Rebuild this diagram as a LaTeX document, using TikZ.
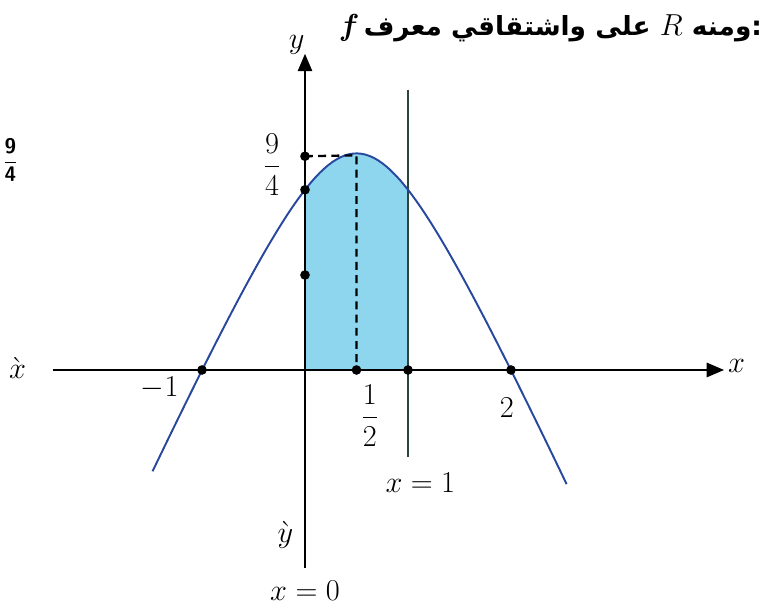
\documentclass[tikz,border=0pt]{standalone}
\usepackage{amsmath}
\usepackage{fontspec}
\newfontfamily\arabicfont[Script=Arabic]{DejaVu Sans}
\TeXXeTstate=1
\usetikzlibrary{arrows.meta,calc}
\definecolor{areablue}{RGB}{142,214,238}
\definecolor{curveblue}{RGB}{40,72,160}
\definecolor{lineslate}{RGB}{45,68,58}

\begin{document}
\begin{tikzpicture}[
    x=2.06cm, y=1.9cm,
    declare function={fc(\t)=2.28-2.39*(sqrt(0.49+(\t-0.5)^2)-0.7);},
    axis/.style={line width=1.6pt, -{Triangle[length=10pt,width=8pt]}},
    curve/.style={curveblue, line width=1.1pt},
    guide/.style={line width=1.3pt, dash pattern=on 4.5pt off 3pt},
    dot/.style={circle, fill=black, inner sep=0pt, minimum size=5.5pt},
    lbl/.style={font=\fontsize{16}{19}\selectfont}
]
\useasboundingbox (-6.10cm,-4.68cm) rectangle (9.28cm,7.40cm);

% Shaded area between x=0 and x=1
\fill[areablue] (0,0) -- plot[domain=0:1, samples=40] (\x,{fc(\x)}) -- (1,0) -- cycle;

% Axes
\coordinate (xl) at (-2.45,0);
\coordinate (xr) at (4.07,0);
\coordinate (yb) at (0,-2.08);
\coordinate (yt) at (0,3.33);
\draw[axis] (xl) -- (xr);
\draw[axis] (yb) -- (yt);

% Line x = 1
\coordinate (vt) at (1,2.95);
\coordinate (vb) at (1,-0.92);
\draw[lineslate, line width=1.1pt] (vt) -- (vb);

% Curve of f
\draw[curve] plot[domain=-1.48:2.54, samples=100] (\x,{fc(\x)});

% Dots
\node[dot] (top) at (0,2.25) {};
\coordinate (vx) at (0.5,2.26);
\node[dot] (ytwo) at (0,{fc(0)}) {};
\node[dot] (yone) at (0,1) {};
\node[dot] (rl) at (-1,0) {};
\node[dot] (hx) at (0.5,0) {};
\node[dot] (one) at (1,0) {};
\node[dot] (rr) at (2,0) {};

% Dashed guides
\draw[guide] (top.center) -- (vx) -- (hx.center);

% Labels
\node[lbl] (ynm) at (-0.08,3.42) {$y$};
\node[lbl] (xnm) at (4.19,0.04) {$x$};
\node[lbl] (xacc) at (-2.79,0.02) {$\grave{x}$};
\node[lbl] (yacc) at (-0.19,-1.74) {$\grave{y}$};
\node[lbl] (ninefour) at (-0.32,2.16) {$\dfrac{9}{4}$};
\node[lbl] (mone) at (-1.41,-0.19) {$-1$};
\node[lbl] (half) at (0.63,-0.48) {$\dfrac{1}{2}$};
\node[lbl] (two) at (1.96,-0.40) {$2$};
\node[lbl] (xone) at (1.12,-1.19) {$x=1$};
\node[lbl] (xzero) at (0,-2.32) {$x=0$};
\node[font=\fontsize{12}{14}\selectfont] (side) at (-2.86,2.21)
    {$\dfrac{\textsf{\textbf{9}}}{\textsf{\textbf{4}}}$};

% Title
\node[anchor=east, inner sep=0pt, font=\fontsize{15}{18}\selectfont] (title) at (4.44,3.60)
    {{\fontsize{18}{20}\selectfont$\boldsymbol{f}$}\,{\arabicfont\bfseries\beginR ومنه {\fontsize{18}{20}\selectfont$R$} على واشتقاقي معرف\endR}{\arabicfont\bfseries :}};

\end{tikzpicture}
\end{document}
